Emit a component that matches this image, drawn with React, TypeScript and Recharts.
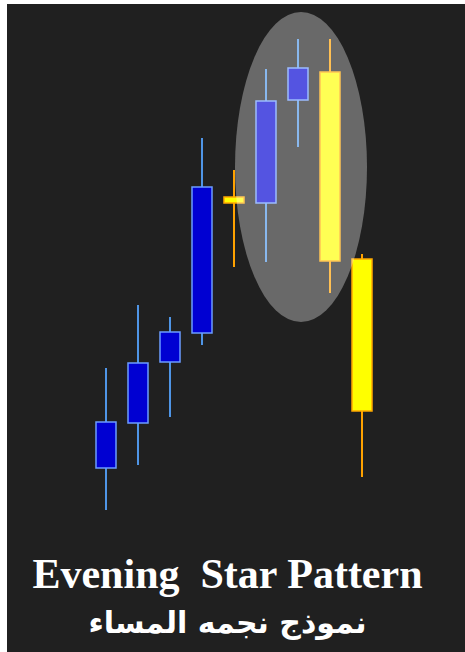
import React from "react";
import { Bar, ComposedChart, ReferenceDot, XAxis, YAxis } from "recharts";

// candle values (price units, 0-104)
const days = ["1", "2", "3", "4", "5", "6", "7", "8", "9"];
const opens = [14.4, 23.4, 35.6, 41.4, 68.6, 67.4, 88, 93.6, 56.2];
const closes = [23.6, 35.4, 41.6, 70.6, 67.4, 87.8, 94.4, 55.8, 25.8];
const lows = [6, 15, 24.6, 39, 54.6, 55.6, 78.6, 49.4, 12.6];
const highs = [34.4, 47, 44.6, 80.4, 74, 94.2, 100.2, 100.2, 57.2];

// the highlighted star area
const starDay = "7";
const starPrice = 74.6;

const data = days.map((d, i) => ({
  day: d,
  open: opens[i],
  close: closes[i],
  low: lows[i],
  high: highs[i],
  range: [lows[i], highs[i]],
}));

const Candle = (props: any) => {
  const { x, y, width, height, payload } = props;
  if (!payload) return null;
  const top = Math.min(y, y + height);
  const bottom = Math.max(y, y + height);
  const span = payload.high - payload.low || 1;
  const py = (v: number) => top + ((payload.high - v) / span) * (bottom - top);
  const up = payload.close >= payload.open;
  const bodyTop = py(Math.max(payload.open, payload.close));
  const bodyBot = py(Math.min(payload.open, payload.close));
  const cx = x + width / 2;
  return (
    <g>
      <line
        x1={cx}
        x2={cx}
        y1={top}
        y2={bottom}
        stroke={up ? "#4f95e6" : "#ffa200"}
        strokeWidth={2}
      />
      <rect
        x={x}
        y={bodyTop}
        width={width}
        height={Math.max(bodyBot - bodyTop, 4)}
        fill={up ? "#0000d2" : "#ffff00"}
        stroke={up ? "#6b9cff" : "#ffa800"}
        strokeWidth={1.5}
      />
    </g>
  );
};

const Ellipse = (props: any) => {
  const { cx, cy } = props;
  return (
    <ellipse
      cx={cx + 3}
      cy={cy}
      rx={66}
      ry={155}
      fill="#ffffff"
      fillOpacity={0.33}
    />
  );
};

export default function App() {
  return (
    <div
      style={{
        position: "absolute",
        left: 0,
        top: 0,
        width: 465,
        height: 652,
        background: "#ffffff",
      }}
    >
      <div
        style={{
          position: "absolute",
          left: 7,
          top: 4,
          width: 458,
          height: 648,
          background: "#202020",
        }}
      >
        <ComposedChart
          width={458}
          height={560}
          data={data}
          margin={{ top: 16, right: 87, bottom: 24, left: 83 }}
        >
          <XAxis dataKey="day" hide />
          <YAxis domain={[0, 104]} hide />
          <Bar
            dataKey="range"
            barSize={20}
            shape={<Candle />}
            isAnimationActive={false}
          />
          <ReferenceDot
            x={starDay}
            y={starPrice}
            shape={<Ellipse />}
            ifOverflow="visible"
          />
        </ComposedChart>
        <div
          style={{
            position: "absolute",
            left: 0,
            top: 549,
            width: 441,
            textAlign: "center",
            color: "#ffffff",
            fontFamily: "'Liberation Serif', serif",
            fontWeight: "bold",
            fontSize: 42,
            lineHeight: "42px",
            whiteSpace: "pre",
          }}
        >
          Evening  Star Pattern
        </div>
        <div
          dir="rtl"
          style={{
            position: "absolute",
            left: 0,
            top: 602,
            width: 441,
            textAlign: "center",
            color: "#ffffff",
            fontFamily: "'DejaVu Sans', sans-serif",
            fontWeight: "bold",
            fontSize: 30,
            lineHeight: "34px",
          }}
        >
          نموذج نجمه المساء
        </div>
      </div>
    </div>
  );
}
